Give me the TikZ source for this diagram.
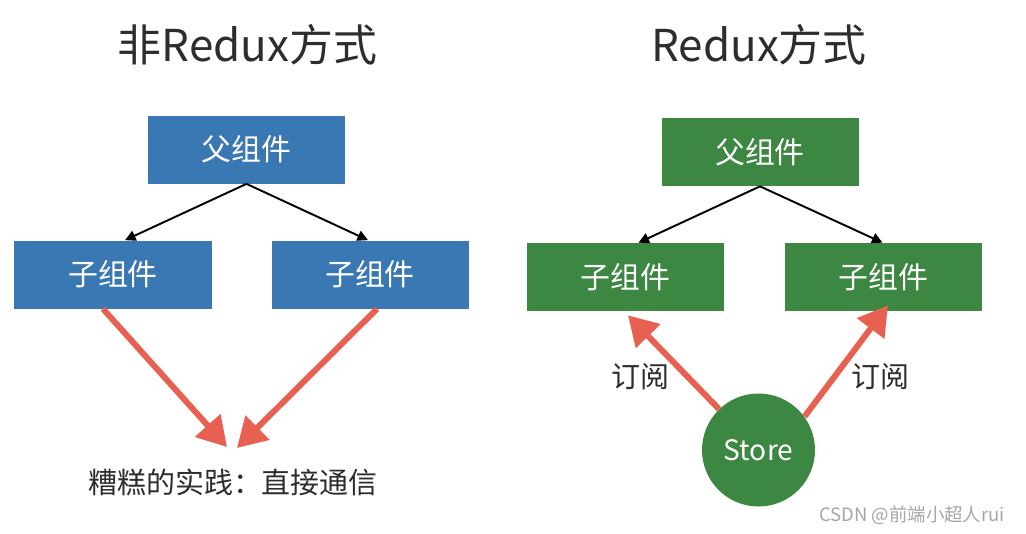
\documentclass[tikz,border=0pt]{standalone}
\usepackage{fontspec}
\setmainfont{Noto Sans CJK SC}
\usepackage{tikz}
\usetikzlibrary{arrows.meta,calc}
\definecolor{boxblue}{RGB}{58,120,180}
\definecolor{boxgreen}{RGB}{60,135,65}
\definecolor{arrowred}{RGB}{232,96,80}
\definecolor{textgray}{RGB}{45,45,45}

\begin{document}
\begin{tikzpicture}[
  bluebox/.style={fill=boxblue, text=white, minimum width=3.94cm, minimum height=1.36cm, inner sep=0pt, font=\fontsize{17}{20}\selectfont},
  greenbox/.style={bluebox, fill=boxgreen},
  tree/.style={-{Triangle[length=6pt,width=6pt]}, line width=1.1pt, black},
  bad/.style={-{Triangle[length=0.58cm,width=0.66cm]}, line width=3.4pt, arrowred},
  title/.style={text=textgray, font=\fontsize{25}{30}\selectfont},
  label/.style={text=textgray, font=\fontsize{16.5}{20}\selectfont}
]
\useasboundingbox (0cm,0cm) rectangle (20.52cm,-10.68cm);
% titles
\node[title] (titleL) at (4.95cm,-0.9cm) {非Redux方式};
\node[title] (titleR) at (15.18cm,-0.9cm) {Redux方式};
% left side
\node[bluebox] (parentL) at (4.93cm,-2.99cm) {父组件};
\node[bluebox] (childLa) at (2.26cm,-5.49cm) {子组件};
\node[bluebox] (childLb) at (7.40cm,-5.49cm) {子组件};
\draw[tree] (parentL.south) -- ([xshift=0.24cm]childLa.north);
\draw[tree] (parentL.south) -- ([xshift=-0.04cm]childLb.north);
\coordinate (meetA) at (4.54cm,-8.94cm);
\coordinate (meetB) at (4.74cm,-8.96cm);
\draw[bad] ([xshift=-0.2cm]childLa.south) -- (meetA);
\draw[bad] ([xshift=0.14cm]childLb.south) -- (meetB);
\node[label] (badText) at (4.66cm,-9.64cm) {糟糕的实践：直接通信};
% right side
\node[greenbox] (parentR) at (15.20cm,-3.04cm) {父组件};
\node[greenbox] (childRa) at (12.51cm,-5.54cm) {子组件};
\node[greenbox] (childRb) at (17.67cm,-5.54cm) {子组件};
\draw[tree] (parentR.south) -- ([xshift=0.26cm]childRa.north);
\draw[tree] (parentR.south) -- ([xshift=-0.02cm]childRb.north);
\node[circle, fill=boxgreen, text=white, minimum size=2.26cm, inner sep=0pt, font=\fontsize{16}{20}\selectfont] (store) at (15.17cm,-9.0cm) {Store};
\draw[bad] (store.134) -- ([xshift=0.05cm,yshift=-0.08cm]childRa.south);
\draw[bad] (store.36) -- ([xshift=0.09cm,yshift=0.12cm]childRb.south);
\node[label] (subA) at (12.8cm,-7.54cm) {订阅};
\node[label] (subB) at (17.6cm,-7.54cm) {订阅};
% watermark
\node[text=gray!70, font=\fontsize{10.5}{12}\selectfont] (mark) at (18.24cm,-10.30cm) {CSDN @前端小超人rui};
\end{tikzpicture}
\end{document}
